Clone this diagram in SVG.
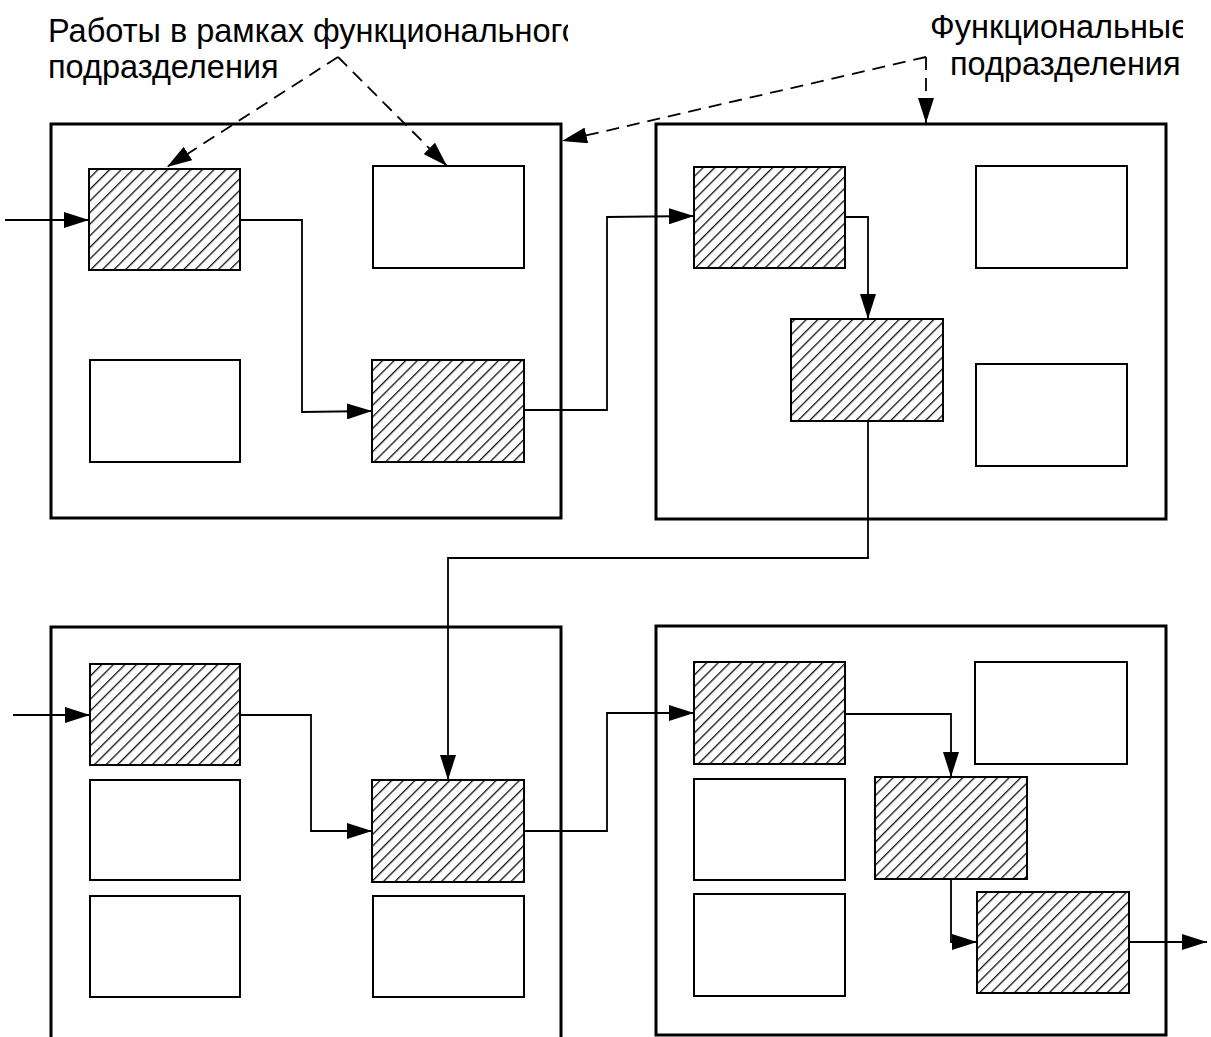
<svg xmlns="http://www.w3.org/2000/svg" width="1211" height="1037" viewBox="0 0 1211 1037">
  <style>
    .frame { fill: none; stroke: #000; stroke-width: 3; }
    .task { fill: #fff; stroke: #000; stroke-width: 2; }
    .work { fill: url(#hatch); stroke: #000; stroke-width: 2; }
    .flow { fill: none; stroke: #000; stroke-width: 1.8; marker-end: url(#arrow); }
    .note { fill: none; stroke: #000; stroke-width: 1.8; stroke-dasharray: 13 8; marker-end: url(#arrow); }
    .label { font-family: "Liberation Sans", Arial, sans-serif; font-size: 32.5px; fill: #000; }
  </style>
  <defs>
    <pattern id="hatch" patternUnits="userSpaceOnUse" width="8.2" height="8.2" patternTransform="rotate(45)">
      <rect width="8.2" height="8.2" fill="#fff"/>
      <line x1="0" y1="0" x2="0" y2="8.2" stroke="#111" stroke-width="2.6"/>
    </pattern>
    <marker id="arrow" viewBox="0 0 25 16" refX="25" refY="8" markerWidth="25" markerHeight="16" markerUnits="userSpaceOnUse" orient="auto">
      <path d="M0,0 L25,8 L0,16 Z" fill="#000"/>
    </marker>
    <clipPath id="clipLeft"><rect x="0" y="0" width="568" height="100"/></clipPath>
    <clipPath id="clipRight"><rect x="600" y="0" width="583" height="100"/></clipPath>
  </defs>

  <!-- labels -->
  <g id="label-works" clip-path="url(#clipLeft)">
    <text class="label" x="48" y="42">Работы в рамках функционального</text>
    <text class="label" x="48" y="78">подразделения</text>
  </g>
  <g id="label-units" clip-path="url(#clipRight)">
    <text class="label" x="930" y="38">Функциональные</text>
    <text class="label" x="950" y="75">подразделения</text>
  </g>

  <!-- unit 1 (top left) -->
  <g id="unit1">
    <rect class="frame" x="51" y="124" width="510" height="394"/>
    <rect id="u1-w1" class="work" x="89" y="169" width="151" height="101"/>
    <rect id="u1-t1" class="task" x="373" y="166" width="151" height="102"/>
    <rect id="u1-t2" class="task" x="90" y="360" width="150" height="102"/>
    <rect id="u1-w2" class="work" x="372" y="360" width="152" height="102"/>
  </g>

  <!-- unit 2 (top right) -->
  <g id="unit2">
    <rect class="frame" x="656" y="124" width="510" height="395"/>
    <rect id="u2-w1" class="work" x="694" y="167" width="151" height="101"/>
    <rect id="u2-t1" class="task" x="976" y="166" width="151" height="102"/>
    <rect id="u2-w2" class="work" x="791" y="319" width="152" height="102"/>
    <rect id="u2-t2" class="task" x="976" y="364" width="151" height="102"/>
  </g>

  <!-- unit 3 (bottom left) -->
  <g id="unit3">
    <rect class="frame" x="51" y="627" width="510" height="440"/>
    <rect id="u3-w1" class="work" x="90" y="664" width="150" height="101"/>
    <rect id="u3-t1" class="task" x="90" y="780" width="150" height="100"/>
    <rect id="u3-t2" class="task" x="90" y="896" width="150" height="101"/>
    <rect id="u3-w2" class="work" x="372" y="780" width="152" height="102"/>
    <rect id="u3-t3" class="task" x="373" y="896" width="151" height="101"/>
  </g>

  <!-- unit 4 (bottom right) -->
  <g id="unit4">
    <rect class="frame" x="656" y="626" width="510" height="409"/>
    <rect id="u4-w1" class="work" x="694" y="662" width="151" height="102"/>
    <rect id="u4-t1" class="task" x="975" y="662" width="152" height="102"/>
    <rect id="u4-t2" class="task" x="694" y="779" width="151" height="101"/>
    <rect id="u4-w2" class="work" x="875" y="777" width="152" height="102"/>
    <rect id="u4-t3" class="task" x="694" y="894" width="151" height="102"/>
    <rect id="u4-w3" class="work" x="977" y="892" width="152" height="101"/>
  </g>

  <!-- connectors -->
  <g id="connectors">
    <path class="flow" d="M5,220 H89"/>
    <path class="flow" d="M240,220 H302 V412 L372,411"/>
    <path class="flow" d="M524,410 H607 V217 L694,216"/>
    <path class="flow" d="M845,217 H868 V319"/>
    <path class="flow" d="M868,421 V558 H448 V780"/>
    <path class="flow" d="M13,715 H90"/>
    <path class="flow" d="M240,715 H311 V831 H372"/>
    <path class="flow" d="M524,831 H607 V713 H694"/>
    <path class="flow" d="M845,714 H951 V777"/>
    <path class="flow" d="M951,879 V942 H977"/>
    <path class="flow" d="M1129,942 H1207"/>

    <path class="note" d="M338,57 L167,167"/>
    <path class="note" d="M338,57 L447,166"/>
    <path class="note" d="M926,57 L562,141"/>
    <path class="note" d="M926,57 V123"/>
  </g>
</svg>
